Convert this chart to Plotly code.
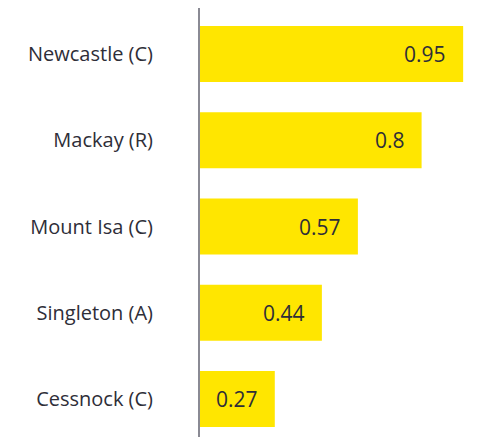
import plotly.graph_objects as go

categories = ["Newcastle (C)", "Mackay (R)", "Mount Isa (C)", "Singleton (A)", "Cessnock (C)"]
values = [0.95, 0.8, 0.57, 0.44, 0.27]
value_labels = ["0.95", "0.8", "0.57", "0.44", "0.27"]

BAR_COLOR = "#FFE600"
TEXT_COLOR = "#2E2E38"
FONT = "Open Sans, Noto Sans, sans-serif"

fig = go.Figure(
    go.Bar(
        x=values,
        y=categories,
        orientation="h",
        marker=dict(color=BAR_COLOR, line=dict(width=0)),
        hoverinfo="skip",
    )
)

annotations = []
for cat, v, lab in zip(categories, values, value_labels):
    annotations.append(dict(
        x=v, y=cat, xref="x", yref="y", text=lab, showarrow=False,
        xanchor="right", yanchor="middle", xshift=-15,
        font=dict(family=FONT, size=21, color=TEXT_COLOR),
    ))

n = len(categories)
# page body adds an 8px offset, so the figure is 8px smaller on each side
fig.update_layout(
    width=469, height=429,
    margin=dict(l=192, r=0, t=0, b=0, autoexpand=False),
    paper_bgcolor="white", plot_bgcolor="white",
    bargap=0.35,
    showlegend=False,
    annotations=annotations,
    xaxis=dict(range=[0, 1.0], visible=False, fixedrange=True),
    yaxis=dict(
        type="category",
        categoryorder="array", categoryarray=categories,
        range=[n - 1 + 0.44, -0.533],
        showline=True, linecolor="#8A8A94", linewidth=2,
        showgrid=False, zeroline=False,
        ticks="", ticklabelstandoff=41,
        tickfont=dict(family=FONT, size=20, color=TEXT_COLOR),
        layer="above traces",
        automargin=False,
    ),
)

fig.write_html("out.html")
